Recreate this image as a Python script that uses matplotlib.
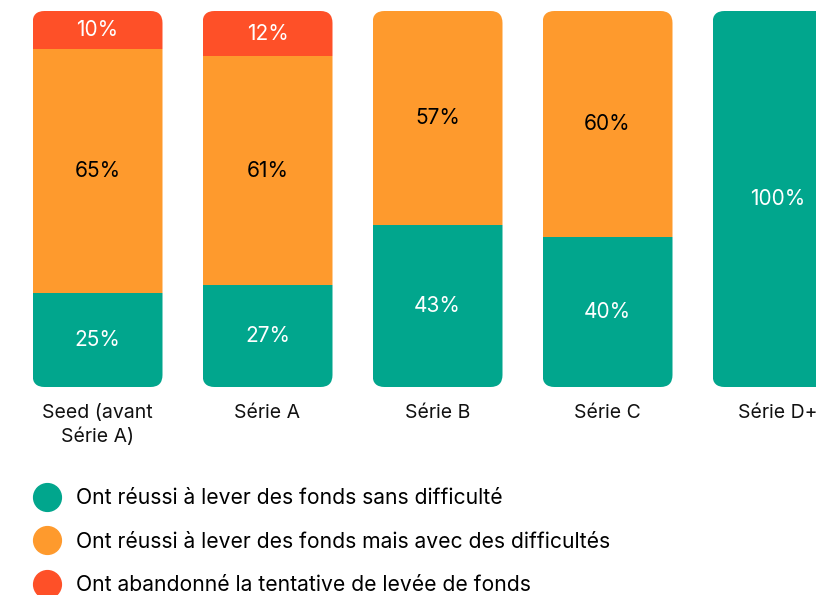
import numpy as np
import matplotlib.pyplot as plt
from matplotlib.patches import FancyBboxPatch
from matplotlib.lines import Line2D

plt.rcParams['font.family'] = ['Inter', 'DejaVu Sans']

categories = ["Seed (avant\nSérie A)", "Série A", "Série B", "Série C", "Série D+"]
sans_difficulte = [25, 27, 43, 40, 100]
avec_difficultes = [65, 61, 57, 60, 0]
abandon = [10, 12, 0, 0, 0]

series_labels = [
    "Ont réussi à lever des fonds sans difficulté",
    "Ont réussi à lever des fonds mais avec des difficultés",
    "Ont abandonné la tentative de levée de fonds",
]
colors = ["#01A68D", "#FE9A2D", "#FE5028"]
text_colors = ["white", "black", "white"]

fig = plt.figure(figsize=(8.16, 5.95), dpi=100)
ax = fig.add_axes([0, 208 / 595, 1, 376 / 595])

x = np.arange(len(categories))
width = 130 / 170
ax.set_xlim(-97.5 / 170, (816 - 97.5) / 170)
ax.set_ylim(0, 100)

# rounding radius in x data units, aspect fix for y
r = 12 / 170
asp = (100 / 376) / (1 / 170)

stacks = [sans_difficulte, avec_difficultes, abandon]
bottoms = np.zeros(len(categories))
totals = np.sum(stacks, axis=0)
clips = []
for i in range(len(categories)):
    clip = FancyBboxPatch((x[i] - width / 2, 0), width, totals[i],
                          boxstyle=f"round,pad=0,rounding_size={r}",
                          mutation_aspect=asp, transform=ax.transData)
    clips.append(clip)

for vals, col, tcol in zip(stacks, colors, text_colors):
    vals = np.array(vals, dtype=float)
    bars = ax.bar(x, vals, width, bottom=bottoms, color=col, linewidth=0)
    for i, b in enumerate(bars):
        b.set_clip_path(clips[i])
        if vals[i] > 0:
            ax.text(x[i], bottoms[i] + vals[i] / 2, f"{int(vals[i])}%",
                    ha='center', va='center', color=tcol, fontsize=15)
    bottoms += vals

ax.set_xticks(x)
ax.set_xticklabels(categories, fontsize=14, color='#111111')
for t in ax.get_xticklabels():
    t.set_linespacing(1.32)
ax.tick_params(axis='x', length=0, pad=12.5)
ax.set_yticks([])
for s in ax.spines.values():
    s.set_visible(False)

handles = [Line2D([], [], marker='o', linestyle='none', markersize=20,
                  markerfacecolor=c, markeredgecolor=c) for c in colors]
fig.legend(handles, series_labels, loc='upper left', bbox_to_anchor=(0.0317, 0.194),
           frameon=False, fontsize=15.2, handletextpad=0.78, labelspacing=1.12,
           handlelength=1.2, borderaxespad=0)

fig.savefig("out.png", dpi=100)
